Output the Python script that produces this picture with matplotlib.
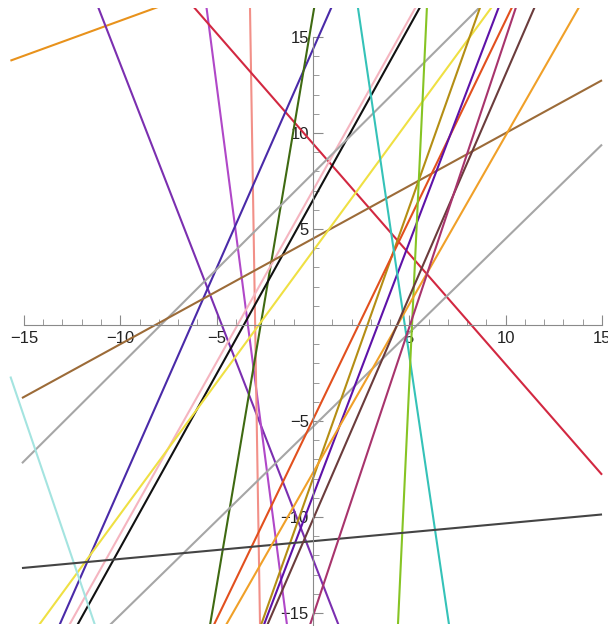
import numpy as np
import matplotlib.pyplot as plt
from matplotlib.patches import Rectangle

# straight lines y = m*x + b
slopes = [0.365, -2.58, -7.7, -61.8, -1.15, 2.28, 5.95, 1.81, 1.79, 1.0, 0.98, 0.55,
          1.37, 2.83, 2.08, 2.64, -6.8, 21.4, -2.95, 0.0927, 1.757, 2.32, 3.01]
intercepts = [19.5, -12.2, -26.0, -185.4, 9.45, 14.36, 16.15, 6.5, 7.01, 7.9, -5.3, 4.5,
              3.85, -8.0, -4.93, -8.9, 32.4, -110.0, -49.0, -11.26, -7.7, -10.13, -15.16]
colors = ['#E8921C', '#7B2FB0', '#B048C8', '#F29088', '#D22841', '#4A2AA8', '#3F6A12',
          '#111111', '#F5B5C0', '#A6A6A6', '#A6A6A6', '#9C6B38', '#EFE043', '#B48E14',
          '#E2501E', '#5E12A8', '#35C2B8', '#86C424', '#A4E4E0', '#444444', '#F0A028',
          '#6B3C3C', '#A8346C']

x_ticks = [-15, -10, -5, 5, 10, 15]
y_ticks = [-15, -10, -5, 5, 10, 15]

plt.rcParams['font.family'] = ['Liberation Sans', 'DejaVu Sans']

fig = plt.figure(figsize=(6.08, 6.26), dpi=100)
ax = fig.add_axes([0, 0, 1, 1])
ax.set_xlim(-16.24, 15.31)
ax.set_ylim(-15.68, 16.93)

clip = Rectangle((-16.0, -15.6), 31.05, 32.1, transform=ax.transData)
for i, (m, b, c) in enumerate(zip(slopes, intercepts, colors)):
    x0 = -15.7 if i in (0, 18) else -15.1
    x = np.linspace(x0, 15.0, 400)
    line, = ax.plot(x, m * x + b, color=c, lw=1.5, solid_capstyle='butt')
    line.set_clip_path(clip)

# axes through the origin
for side in ('top', 'right'):
    ax.spines[side].set_visible(False)
ax.spines['left'].set_position(('data', 0))
ax.spines['bottom'].set_position(('data', 0))
ax.spines['left'].set_bounds(-15.68, 15.0)
ax.spines['bottom'].set_bounds(-15.0, 15.0)
for side in ('left', 'bottom'):
    ax.spines[side].set_color('#8a8a8a')
    ax.spines[side].set_linewidth(0.8)

ax.set_xticks(x_ticks)
ax.set_yticks(y_ticks)
ax.set_xticks(np.arange(-15, 16, 1), minor=True)
ax.set_yticks(np.arange(-15, 16, 1), minor=True)
ax.tick_params(which='major', direction='in', length=7, width=0.8, color='#8a8a8a',
               labelsize=12, labelcolor='#222222')
ax.tick_params(which='minor', direction='in', length=4, width=0.6, color='#8a8a8a')
ax.tick_params(axis='x', pad=4)
ax.tick_params(axis='y', pad=3)
ax.set_xticklabels([f'\u2212{abs(t)}' if t < 0 else str(t) for t in x_ticks])
ax.set_yticklabels([f'\u2212{abs(t)}' if t < 0 else str(t) for t in y_ticks])

fig.savefig('out.png', dpi=100, facecolor='white')
